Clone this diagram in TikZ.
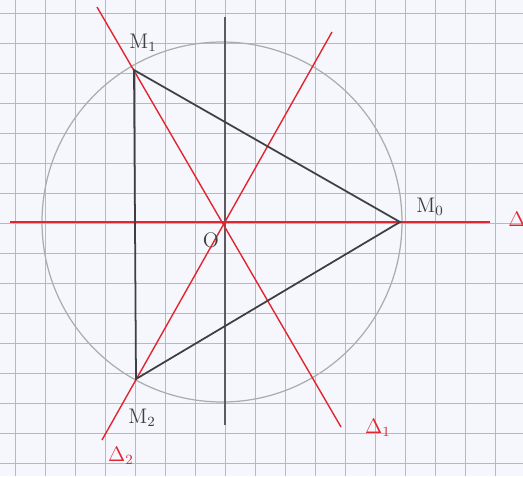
\documentclass[tikz,border=0pt]{standalone}
\usepackage{tikz}
\usetikzlibrary{positioning}
\definecolor{gridblue}{RGB}{172,182,236}
\definecolor{paper}{RGB}{246,247,253}
\definecolor{pencil}{RGB}{62,62,68}
\definecolor{redink}{RGB}{225,38,48}
\tikzset{
  gridline/.style={draw=gridblue, line width=0.5pt},
  axis/.style={draw=pencil!85, line width=0.9pt},
  redline/.style={draw=redink, line width=0.8pt},
  tri/.style={draw=pencil, line width=1pt},
  circ/.style={draw=gray!65, line width=0.7pt},
  pt/.style={font=\large, text=pencil, inner sep=1pt},
  dl/.style={font=\large\bfseries, text=redink, inner sep=1pt}
}

\begin{document}
\begin{tikzpicture}[x=0.02cm, y=-0.02cm]
  % squared paper
  \fill[paper] (0,0) rectangle (523,476);
  \useasboundingbox (0,0) rectangle (523,476);
  \foreach \k in {0,...,17}
    \draw[gridline] (15+30*\k,0) -- (15+30*\k,476);
  \foreach \k in {0,...,15}
    \draw[gridline] (0,13+30*\k) -- (523,13+30*\k);

  % points
  \coordinate (O) at (222,222);
  \coordinate (M0) at (400,222);
  \coordinate (M1) at (134,70);
  \coordinate (M2) at (136,379);
  \coordinate (xl) at (10,222);
  \coordinate (xr) at (490,222);
  \coordinate (yt) at (225,17);
  \coordinate (yb) at (225,425);
  \coordinate (d1a) at (97,7);
  \coordinate (d1b) at (341,427);
  \coordinate (d2a) at (332,32);
  \coordinate (d2b) at (102,440);

  % circle and axes
  \draw[circ] (O) circle (180);
  \draw[axis] (yt) -- (yb);
  \draw[axis] (xl) -- (xr);
  \draw[redline] (xl) -- (xr);

  % red lines
  \draw[redline] (d1a) -- (d1b);
  \draw[redline] (d2a) -- (d2b);

  % triangle
  \draw[tri] (M0) -- (M1) -- (M2) -- cycle;

  % labels
  \node[pt] (lM0) at (430,207) {M$_0$};
  \node[pt] (lM1) at (143,43) {M$_1$};
  \node[pt] (lM2) at (142,418) {M$_2$};
  \node[pt] (lO) at (211,240) {O};
  \node[dl] (lD) at (517,219) {$\Delta$};
  \node[dl] (lD1) at (378,428) {$\Delta_1$};
  \node[dl] (lD2) at (121,456) {$\Delta_2$};
\end{tikzpicture}
\end{document}
